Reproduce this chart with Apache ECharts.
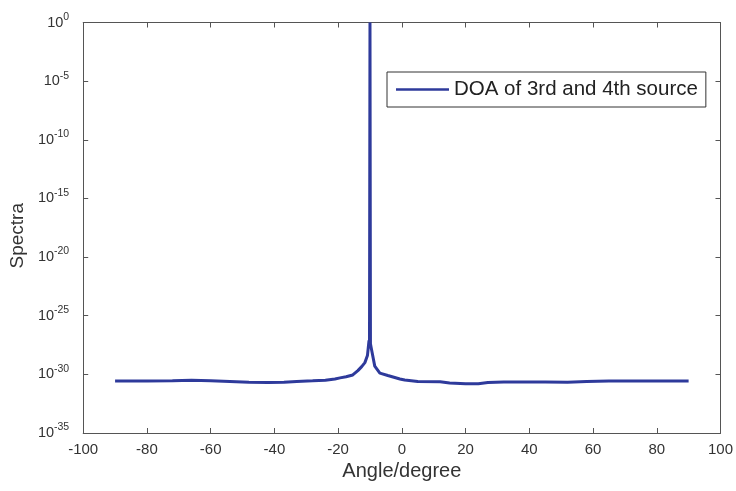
<!DOCTYPE html>
<html>
<head>
<meta charset="utf-8">
<script src="https://cdn.jsdelivr.net/npm/echarts@6/dist/echarts.min.js"></script>
<style>html,body{margin:0;padding:0;background:#fff}#c{width:736px;height:491px}</style>
</head>
<body>
<div id="c"></div>
<script>
var seriesName = 'DOA of 3rd and 4th source';
var angles = [-90, -80, -72, -66, -60, -54, -48, -42, -37, -33, -28, -24, -21, -19.4, -17.5, -15.4, -13.8, -12.6, -11.6, -10.8, -10.3, -10.15, -10.0, -9.85, -9.5, -8.5, -6.9, -4.4, -0.6, 0.9, 5, 12, 15, 20, 24, 27, 32, 45, 52, 58, 65, 80, 90];
var spectra = [2.75e-31, 2.75e-31, 2.82e-31, 3.16e-31, 2.82e-31, 2.51e-31, 2.14e-31, 2.04e-31, 2.09e-31, 2.51e-31, 2.82e-31, 3.16e-31, 3.98e-31, 5.01e-31, 6.3e-31, 8.91e-31, 2.09e-30, 4.57e-30, 1e-29, 3.98e-29, 7.94e-28, 5.01e-28, 1, 3.98e-28, 1.26e-28, 5.01e-30, 1.26e-30, 7.94e-31, 4.07e-31, 3.31e-31, 2.51e-31, 2.29e-31, 1.86e-31, 1.58e-31, 1.58e-31, 2.0e-31, 2.19e-31, 2.24e-31, 2.09e-31, 2.51e-31, 2.75e-31, 2.75e-31, 2.75e-31];
var xTicks = [-100, -80, -60, -40, -20, 0, 20, 40, 60, 80, 100];
var yTickExponents = [-35, -30, -25, -20, -15, -10, -5, 0];

// plotted on a log10 scale (decades)
var data = angles.map(function (a, i) { return [a, Math.log(spectra[i]) / Math.LN10]; });
var font = 'Liberation Sans';
var axisColor = '#555';
var tick = {show: true, inside: true, length: 5, lineStyle: {color: axisColor}};
var line = {show: true, onZero: false, lineStyle: {color: axisColor, width: 1}};
var xMin = xTicks[0], xMax = xTicks[xTicks.length - 1];
var yMin = yTickExponents[0], yMax = yTickExponents[yTickExponents.length - 1];
var chart = echarts.init(document.getElementById('c'), null, {renderer: 'canvas'});
chart.setOption({
  backgroundColor: '#fff',
  textStyle: {fontFamily: font},
  animation: false,
  grid: {left: 83, top: 22.5, right: 15, bottom: 58},
  legend: {
    data: [seriesName], left: 387, top: 72,
    borderColor: '#333', borderWidth: 1, borderRadius: 0,
    padding: [7, 8, 7, 9], itemWidth: 53, itemHeight: 14, itemGap: 5,
    textStyle: {fontFamily: font, fontSize: 20.5, color: '#222'},
    icon: 'path://M0,6 L53,6 L53,8.5 L0,8.5 Z'
  },
  xAxis: [{
    type: 'value', min: xMin, max: xMax, interval: 20,
    name: 'Angle/degree', nameLocation: 'middle', nameGap: 19,
    nameTextStyle: {fontFamily: font, fontSize: 20, color: '#333'},
    axisLine: line, axisTick: tick,
    axisLabel: {fontFamily: font, fontSize: 15, color: '#333', margin: 9},
    splitLine: {show: false}
  }, {
    type: 'value', position: 'top', min: xMin, max: xMax, interval: 20,
    axisLine: line, axisTick: tick, axisLabel: {show: false}, splitLine: {show: false}
  }],
  yAxis: [{
    type: 'value', min: yMin, max: yMax, interval: 5,
    name: 'Spectra', nameLocation: 'middle', nameGap: 43,
    nameTextStyle: {fontFamily: font, fontSize: 19, color: '#333', padding: [0, 16, 0, 0]},
    axisLine: line, axisTick: tick,
    axisLabel: {
      margin: 14, color: '#333',
      formatter: function (v) { return '{b|10}{s|' + Math.round(v) + '}'; },
      rich: {
        b: {fontFamily: font, fontSize: 14.5, color: '#333'},
        s: {fontFamily: font, fontSize: 10.5, color: '#333', padding: [0, 0, 11, 0]}
      }
    },
    splitLine: {show: false}
  }, {
    type: 'value', position: 'right', min: yMin, max: yMax, interval: 5,
    axisLine: line, axisTick: tick, axisLabel: {show: false}, splitLine: {show: false}
  }],
  series: [{
    name: seriesName, type: 'line', data: data, symbol: 'none', showSymbol: false,
    xAxisIndex: 0, yAxisIndex: 0,
    lineStyle: {color: '#2e3a9b', width: 3},
    itemStyle: {color: '#2e3a9b'}
  }]
});
</script>
</body>
</html>
